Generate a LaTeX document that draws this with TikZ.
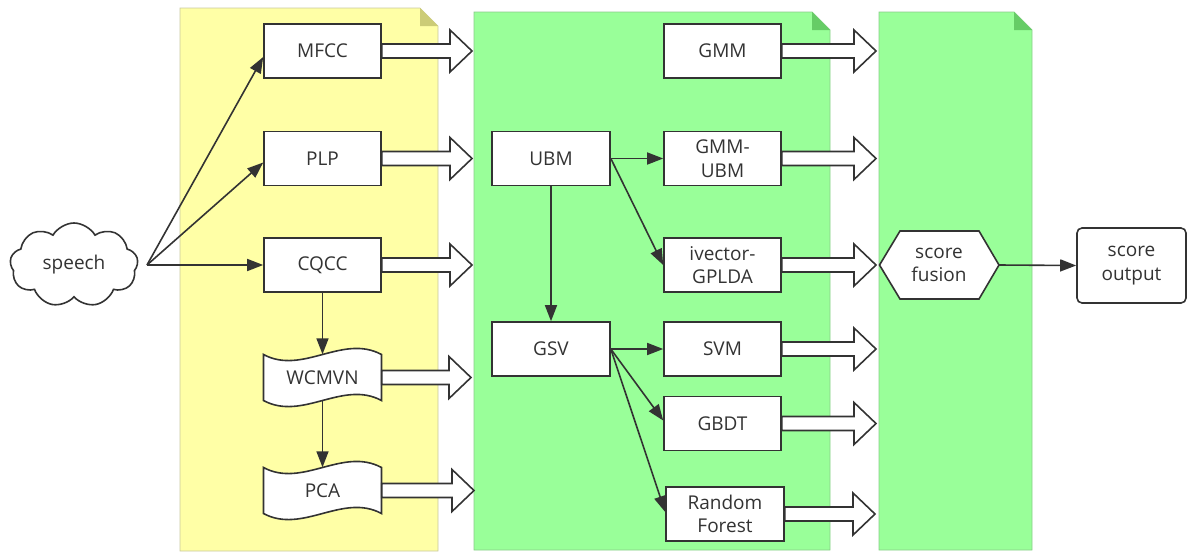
\documentclass[tikz,border=0pt]{standalone}
\usepackage{fontspec}
\setmainfont{Open Sans}
\usetikzlibrary{arrows.meta,shapes.symbols,calc}
\definecolor{line}{HTML}{333333}
\definecolor{txt}{HTML}{333333}
\definecolor{yel}{HTML}{FFFFA6}
\definecolor{yelfold}{HTML}{CCCC77}
\definecolor{yelbord}{HTML}{C8C8A0}
\definecolor{grn}{HTML}{99FF99}
\definecolor{grnfold}{HTML}{66CC66}
\definecolor{grnbord}{HTML}{88CC88}
\newcommand\labfont{\fontsize{19}{23.5}\selectfont}
\tikzset{
  box/.style={draw=line, line width=1.6pt, fill=white, minimum width=117pt, minimum height=54pt, inner sep=0pt, align=center, text=txt, font=\labfont},
  lbl/.style={inner sep=0pt, align=center, text=txt, font=\labfont},
  conn/.style={draw=line, line width=1.6pt, -{Triangle[length=16pt,width=12pt]}},
  hollow/.style={draw=line, line width=1.6pt, fill=white, line join=miter},
  shp/.style={draw=line, line width=1.6pt, fill=white},
  panelY/.style={fill=yel, draw=yelbord, line width=0.7pt},
  panelG/.style={fill=grn, draw=grnbord, line width=0.7pt},
}
\newcommand\blk[2]{\draw[hollow] let \p1=(#1) in (\x1,\y1+7pt) -- (#2pt-22pt,\y1+7pt) -- (#2pt-22pt,\y1+21pt) -- (#2pt,\y1) -- (#2pt-22pt,\y1-21pt) -- (#2pt-22pt,\y1-7pt) -- (\x1,\y1-7pt) -- cycle;}
\newcommand\tapebox[4]{%
  \pgfmathsetmacro\txa{#2-59}\pgfmathsetmacro\txb{#2+59}%
  \pgfmathsetmacro\tya{#3-23}\pgfmathsetmacro\tyb{#3+23}%
  \pgfmathsetmacro\txc{#2-20}\pgfmathsetmacro\txd{#2+20}%
  \draw[shp] (\txa,\tya) .. controls (\txc,{\tya+21}) and (\txd,{\tya-21}) .. (\txb,\tya) -- (\txb,\tyb) .. controls (\txd,{\tyb-21}) and (\txc,{\tyb+21}) .. (\txa,\tyb) -- cycle;
  \node[lbl, minimum width=118pt, minimum height=46pt] (#1) at (#2,#3) {#4};}
\begin{document}
\begin{tikzpicture}[x=1pt,y=-1pt]
\useasboundingbox (0,0) rectangle (1188,552);
% panels
\draw[panelY] (180,8) -- (420,8) -- (438,26) -- (438,551) -- (180,551) -- cycle;
\fill[yelfold] (420,8) -- (420,26) -- (438,26) -- cycle;
\draw[panelG] (474,12) -- (812,12) -- (830,30) -- (830,550) -- (474,550) -- cycle;
\fill[grnfold] (812,12) -- (812,30) -- (830,30) -- cycle;
\draw[panelG] (879,12) -- (1014,12) -- (1032,30) -- (1032,550) -- (879,550) -- cycle;
\fill[grnfold] (1014,12) -- (1014,30) -- (1032,30) -- cycle;

% speech
\node[cloud, cloud puffs=9, cloud puff arc=120, aspect=1.5, draw=line, line width=1.6pt, fill=white, minimum width=128pt, minimum height=84pt, inner sep=0pt, font=\labfont, text=txt] (speech) at (74,265) {speech};
\coordinate (sp) at (147,265);

% feature nodes
\node[box] (mfcc) at (322.5,51) {MFCC};
\node[box] (plp) at (322.5,158.5) {PLP};
\node[box] (cqcc) at (322.5,265) {CQCC};
\tapebox{wcm}{322.5}{377.5}{WCMVN}
\tapebox{pca}{322.5}{490.5}{PCA}

% model nodes
\node[box, minimum width=118pt] (ubm) at (551,158.5) {UBM};
\node[box, minimum width=118pt] (gsv) at (551,349) {GSV};
\node[box] (gmm) at (722.5,51) {GMM};
\node[box] (gmmubm) at (722.5,158.5) {GMM-\\UBM};
\node[box] (ivec) at (722.5,265) {ivector-\\GPLDA};
\node[box] (svm) at (722.5,349) {SVM};
\node[box] (gbdt) at (722.5,423.5) {GBDT};
\node[box, minimum width=118pt] (rf) at (725,514) {Random\\Forest};

% fusion and output
\draw[shp] (879.5,265) -- (900,231) -- (979,231) -- (999,265) -- (979,299) -- (900,299) -- cycle;
\node[lbl, minimum width=119pt, minimum height=68pt] (fus) at (939,265) {score\\fusion};
\node[box, rounded corners=5pt, minimum width=109pt, minimum height=75pt] (out) at (1131.5,265.5) {score\\output};

% hollow arrows
\blk{mfcc.east}{472}
\blk{plp.east}{472}
\blk{cqcc.east}{472}
\blk{wcm.east}{471}
\blk{pca.east}{474}
\blk{gmm.east}{876}
\blk{gmmubm.east}{876}
\blk{ivec.east}{876}
\blk{svm.east}{876}
\blk{gbdt.east}{876}
\blk{rf.east}{875}

% connectors
\draw[conn] (sp) -- ($(mfcc.west)+(0,6)$);
\draw[conn] (sp) -- ($(plp.west)+(0,4)$);
\draw[conn] (sp) -- (cqcc.west);
\draw[conn] (cqcc.south) -- (wcm.north);
\draw[conn] (wcm.south) -- (pca.north);
\draw[conn] (ubm.east) -- (gmmubm.west);
\draw[conn] (ubm.east) -- (ivec.west);
\draw[conn] (ubm.south) -- (gsv.north);
\draw[conn] (gsv.east) -- (svm.west);
\draw[conn] (gsv.east) -- ($(gbdt.west)+(0,-3)$);
\draw[conn] (gsv.east) -- ($(rf.west)+(0,-2)$);
\draw[conn] (fus.east) -- (out.west);
\end{tikzpicture}
\end{document}
